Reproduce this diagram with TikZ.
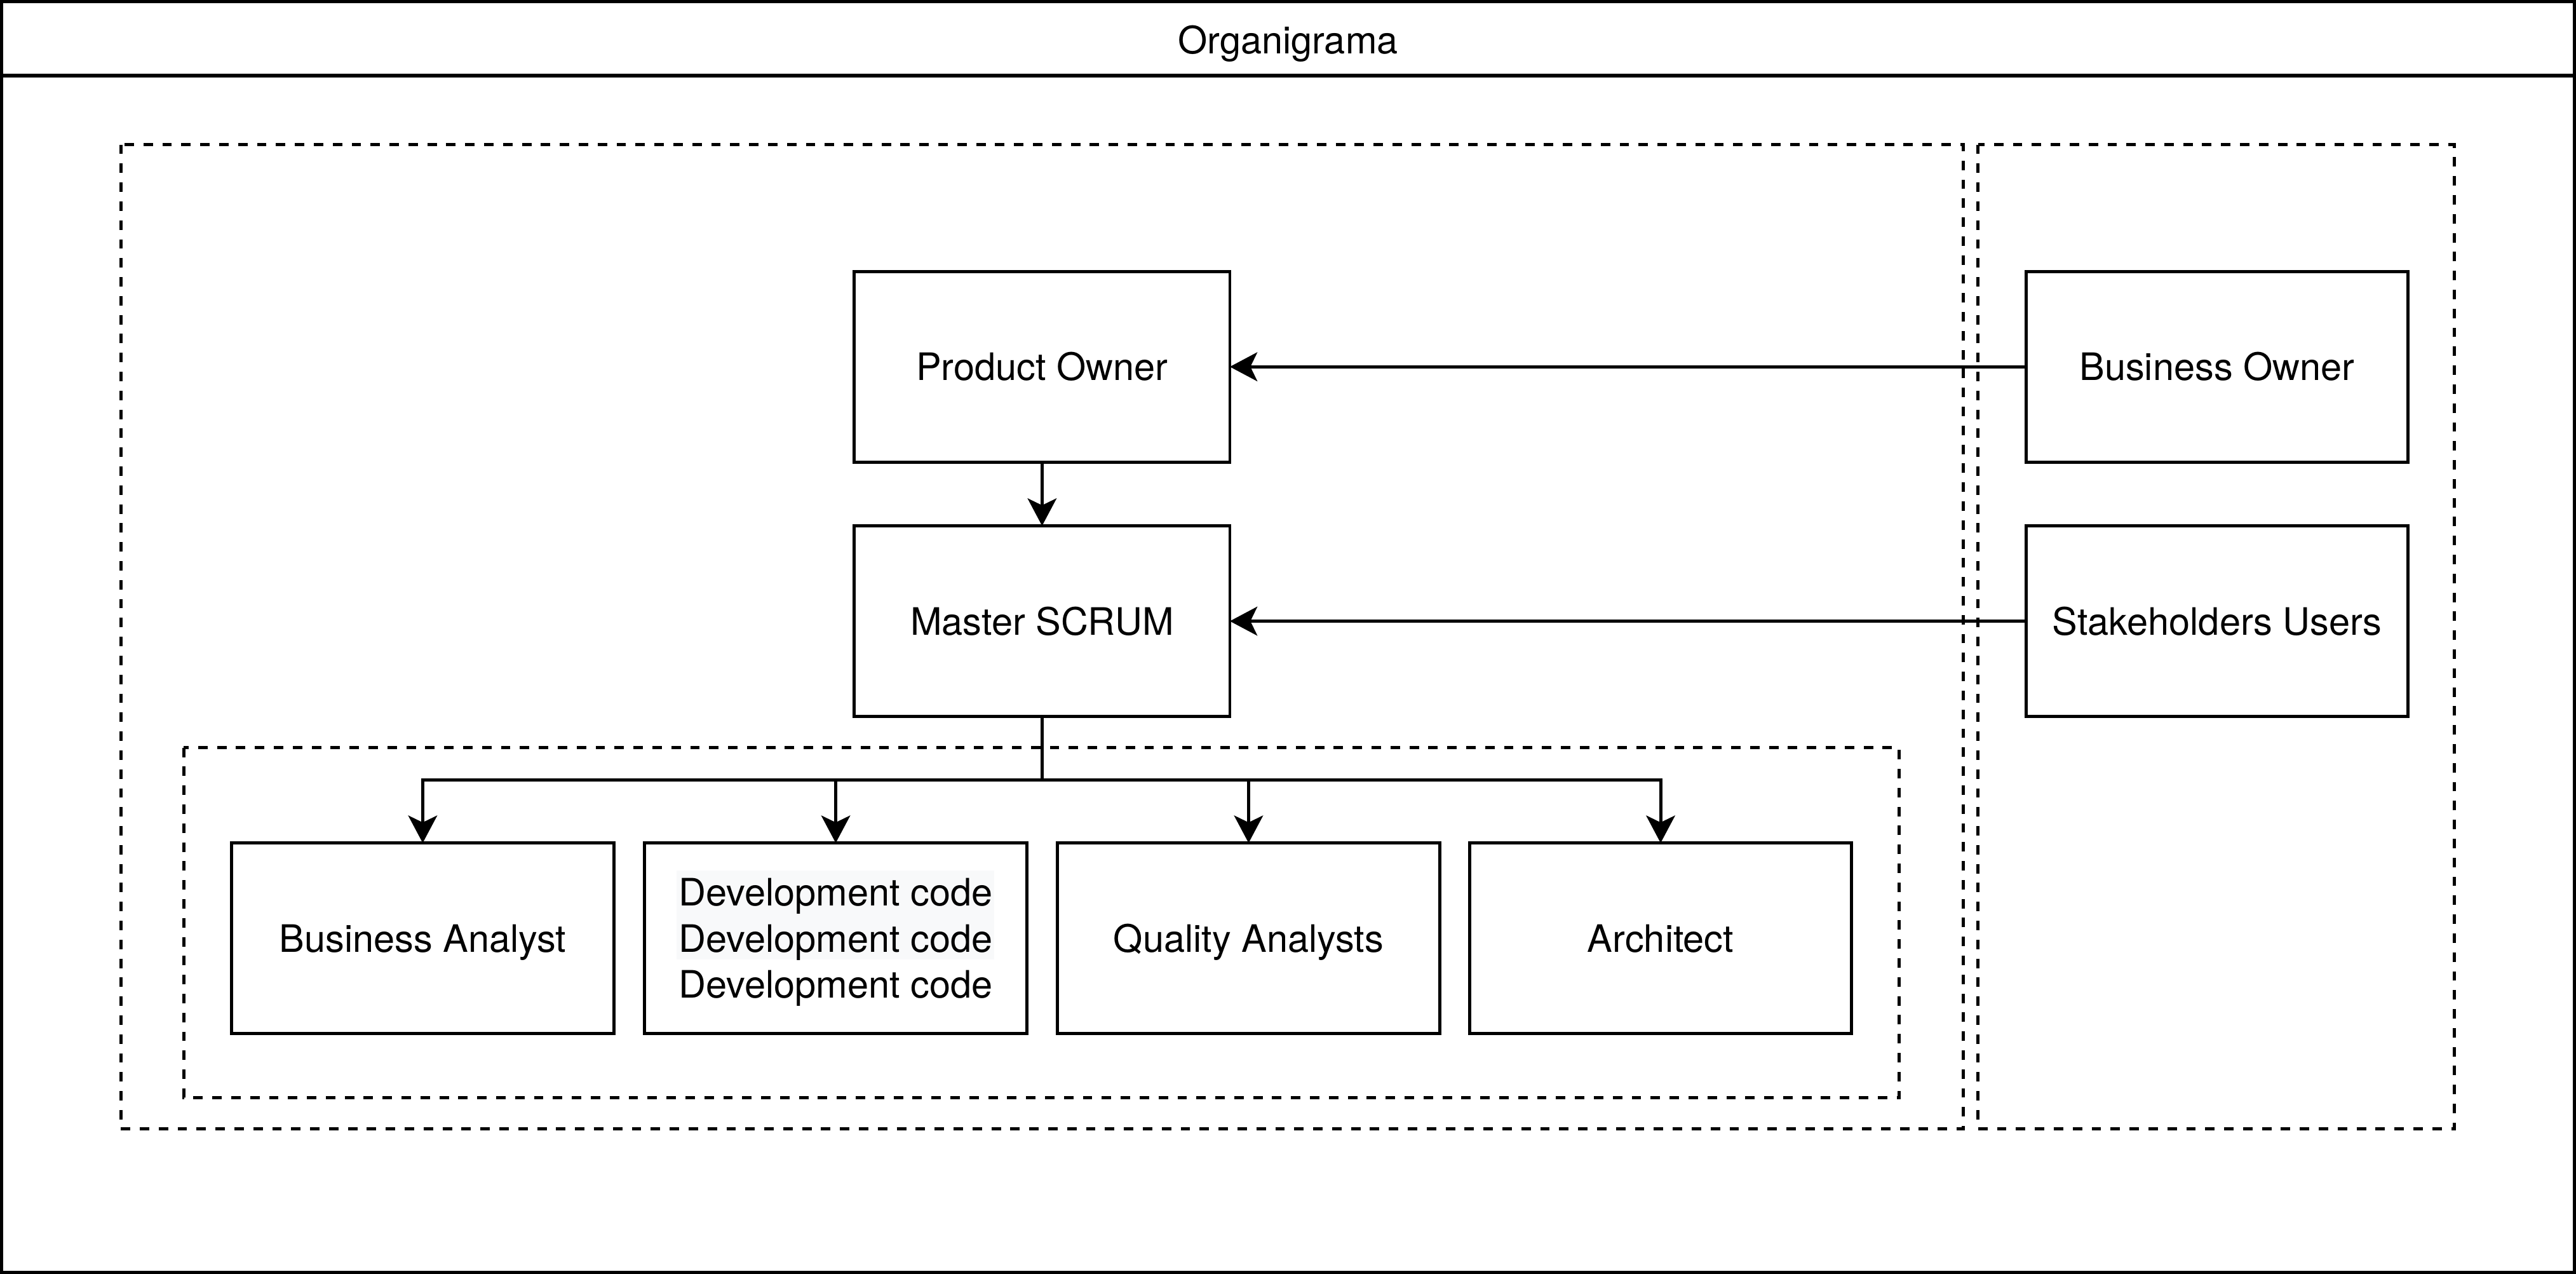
\documentclass[tikz,border=0pt]{standalone}
\usepackage{fontspec}
\setmainfont{TeX Gyre Heros}
\usetikzlibrary{arrows.meta}
\definecolor{hlgrey}{HTML}{F8F9FA}
\begin{document}
\begin{tikzpicture}[x=1pt,y=-1pt,
  lw/.style={line width=1.9pt},
  lbl/.style={font=\fontsize{23}{28}\selectfont},
  box/.style={draw, lw, rectangle, inner sep=0pt, outer sep=0pt,
    minimum width=232.6pt, minimum height=116pt, lbl,
    text height=16.6pt, text depth=0pt},
  topbox/.style={box, minimum width=228.6pt},
  multibox/.style={draw, lw, rectangle, inner sep=0pt, outer sep=0pt,
    minimum width=232.6pt, minimum height=116pt, lbl, align=center,
    text depth=0pt},
  group/.style={draw, lw, dash pattern=on 5.76pt off 5.76pt},
  conn/.style={lw, -{Stealth[length=16.7pt,width=17.6pt,inset=4.2pt]}}
]
\useasboundingbox (0,0) rectangle (1568,775.3);

% outer swimlane frame
\draw[line width=2pt] (1,1) rectangle (1567,774.3);
\draw[line width=2pt] (0,46) -- (1568,46);
\node[lbl, inner sep=0pt, text height=16.6pt, text depth=0pt] (title) at (784,24.5) {Organigrama};

% dashed groups
\draw[group] (73.5,88) rectangle (1195,687);
\draw[group] (1204,88) rectangle (1494,687);
\draw[group] (111.8,455) rectangle (1156,668);

% highlight behind dev text
\fill[hlgrey] (411.8,529.8) rectangle (605.1,584);

% boxes
\node[topbox] (po) at (634.3,223.2) {Product Owner};
\node[topbox] (ms) at (634.3,378) {Master SCRUM};
\node[box] (bo) at (1349.5,223.2) {Business Owner};
\node[box] (su) at (1349.5,378) {Stakeholders Users};

\node[box] (ba) at (257.3,571) {Business Analyst};
\node[multibox] (dev) at (508.7,571) {Development code\\Development code\\Development code};
\node[box] (qa) at (760,571) {Quality Analysts};
\node[box] (ar) at (1010.8,571) {Architect};

% connectors
\draw[conn] (bo.west) -- (po.east);
\draw[conn] (su.west) -- (ms.east);
\draw[conn] (po.south) -- (ms.north);
\coordinate (br) at (634.3,474.5);
\draw[lw] (ms.south) -- (br);
\draw[conn] (br) -| (ba.north);
\draw[conn] (br) -| (dev.north);
\draw[conn] (br) -| (qa.north);
\draw[conn] (br) -| (ar.north);
\end{tikzpicture}
\end{document}
